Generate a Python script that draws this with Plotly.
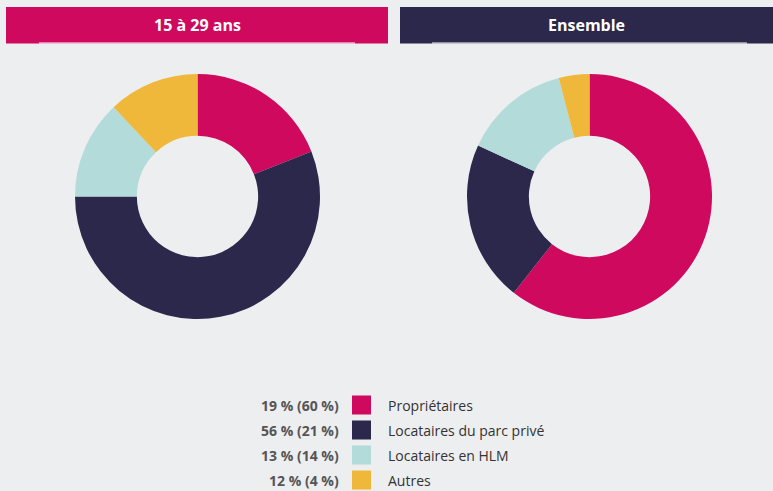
import plotly.graph_objects as go

categories = ["Propriétaires", "Locataires du parc privé", "Locataires en HLM", "Autres"]
jeunes = [19, 56, 13, 12]
ensemble = [60, 21, 14, 4]
panel_titles = ["15 à 29 ans", "Ensemble"]
colors = ["#CE095E", "#2B284B", "#B2DBDA", "#EFB83B"]
title_colors = ["#CE095E", "#2B284B"]

W, H = 773, 491
BG = "#EDEEF0"

fig = go.Figure()

def dom(cx, cy, r):
    return dict(x=[(cx - r) / W, (cx + r) / W], y=[1 - (cy + r) / H, 1 - (cy - r) / H])

for vals, cx in [(jeunes, 197.5), (ensemble, 589.5)]:
    fig.add_trace(go.Pie(
        labels=categories, values=vals, hole=0.495, sort=False,
        direction="clockwise", rotation=0,
        marker=dict(colors=colors, line=dict(width=0)),
        textinfo="none", hoverinfo="label+percent", showlegend=False,
        domain=dom(cx, 196.5, 122.5),
    ))

shapes = []
annotations = []
# header bars
bars = [(6, 388), (400, 773)]
underlines = [(39, 355), (432, 747)]
for (x0, x1), (u0, u1), t, c in zip(bars, underlines, panel_titles, title_colors):
    shapes.append(dict(type="rect", xref="paper", yref="paper",
                       x0=x0 / W, x1=x1 / W, y0=1 - 43.5 / H, y1=1 - 7 / H,
                       fillcolor=c, line=dict(width=0), layer="below"))
    shapes.append(dict(type="rect", xref="paper", yref="paper",
                       x0=u0 / W, x1=u1 / W, y0=1 - 43.5 / H, y1=1 - 42.6 / H,
                       fillcolor="white", line=dict(width=0), layer="below"))
    annotations.append(dict(text="<b>%s</b>" % t, xref="paper", yref="paper",
                            x=(x0 + x1) / 2 / W, y=1 - 25.5 / H, showarrow=False,
                            xanchor="center", yanchor="middle",
                            font=dict(family="Open Sans", size=16, color="white")))

# legend
row_y = [405, 430, 455, 480]
for i, (cat, a, b, c) in enumerate(zip(categories, jeunes, ensemble, colors)):
    y = row_y[i]
    shapes.append(dict(type="rect", xref="paper", yref="paper",
                       x0=352 / W, x1=371 / W, y0=1 - (y + 9.5) / H, y1=1 - (y - 9.5) / H,
                       fillcolor=c, line=dict(width=0)))
    annotations.append(dict(text="<b>%d %% (%d %%)</b>" % (a, b), xref="paper", yref="paper",
                            x=341 / W, y=1 - y / H, showarrow=False,
                            xanchor="right", yanchor="middle",
                            font=dict(family="Open Sans", size=14, color="#555555")))
    annotations.append(dict(text=cat, xref="paper", yref="paper",
                            x=386 / W, y=1 - y / H, showarrow=False,
                            xanchor="left", yanchor="middle",
                            font=dict(family="Open Sans", size=14, color="#333333")))

fig.update_layout(
    width=W, height=H, margin=dict(l=0, r=0, t=0, b=0),
    paper_bgcolor=BG, plot_bgcolor=BG,
    shapes=shapes, annotations=annotations,
)
fig.write_html("out.html", config={"displayModeBar": False},
               post_script="document.body.style.margin='0';document.body.style.background='%s';" % BG)
